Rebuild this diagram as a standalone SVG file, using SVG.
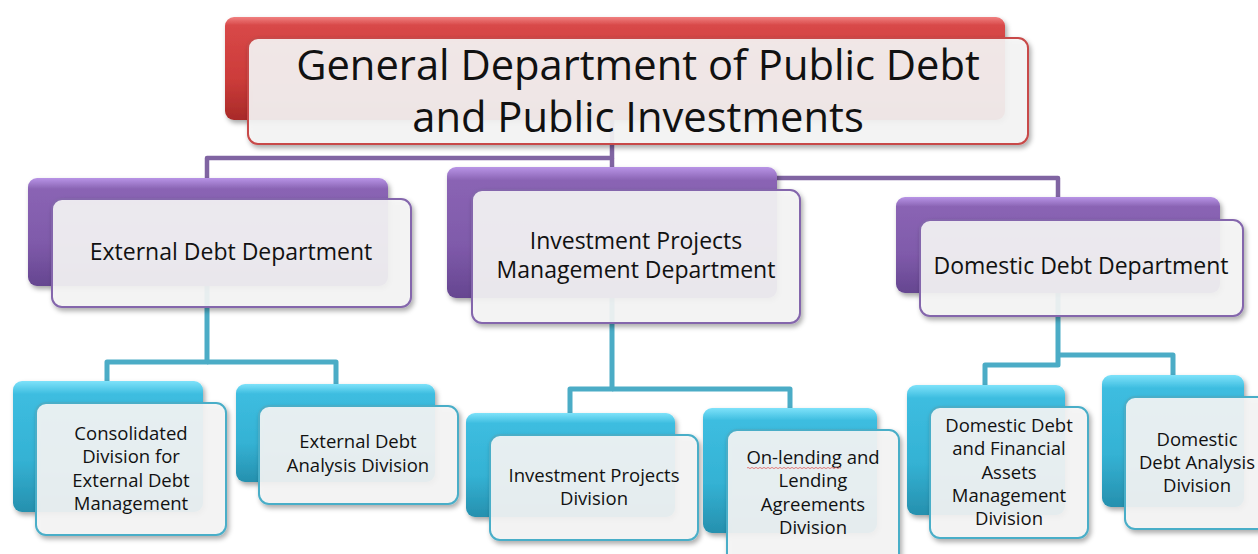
<svg xmlns="http://www.w3.org/2000/svg" width="1258" height="554" viewBox="0 0 1258 554">
  <defs>
    <linearGradient id="gRed" x1="0" y1="0" x2="0" y2="1">
      <stop offset="0" stop-color="#f08080"/>
      <stop offset="0.08" stop-color="#d84848"/>
      <stop offset="0.6" stop-color="#cc3c3a"/>
      <stop offset="1" stop-color="#a82a28"/>
    </linearGradient>
    <linearGradient id="gPurple" x1="0" y1="0" x2="0" y2="1">
      <stop offset="0" stop-color="#b894e6"/>
      <stop offset="0.1" stop-color="#8a64b4"/>
      <stop offset="0.6" stop-color="#7f5aaa"/>
      <stop offset="1" stop-color="#654690"/>
    </linearGradient>
    <linearGradient id="gCyan" x1="0" y1="0" x2="0" y2="1">
      <stop offset="0" stop-color="#7ee2fa"/>
      <stop offset="0.1" stop-color="#3dbde0"/>
      <stop offset="0.6" stop-color="#34b2d4"/>
      <stop offset="1" stop-color="#2690ae"/>
    </linearGradient>
    <filter id="shadow" x="-10%" y="-10%" width="125%" height="135%">
      <feDropShadow dx="2" dy="3" stdDeviation="2.5" flood-color="#000" flood-opacity="0.35"/>
    </filter>
  </defs>
  <style>
    text { font-family: "Open Sans", "Noto Sans", "Liberation Sans", sans-serif; fill: #111; text-anchor: middle; }
    .title { font-size: 41.7px; }
    .dept { font-size: 23px; }
    .div { font-size: 18.5px; }
    .back { filter: url(#shadow); }
    .front { fill: #f6f6f6; fill-opacity: 0.9; stroke-width: 2; filter: url(#shadow); }
    .red .back { fill: url(#gRed); }
    .red .front { stroke: #c84a48; }
    .purple .back { fill: url(#gPurple); }
    .purple .front { stroke: #8466ac; }
    .cyan .back { fill: url(#gCyan); }
    .cyan .front { stroke: #4aaec8; }
    .conn-p { fill: none; stroke: #8064a2; stroke-width: 4.5; stroke-linejoin: round; }
    .conn-c { fill: none; stroke: #4bacc6; stroke-width: 5; stroke-linejoin: round; }
    .spell { fill: none; stroke: #e06060; stroke-width: 0.8; }
  </style>

  <rect width="1258" height="554" fill="#ffffff"/>

  <!-- connectors, drawn beneath the boxes -->
  <g id="connectors">
    <path class="conn-p" d="M612,120 V158 H207 V180"/>
    <path class="conn-p" d="M612,158 V170"/>
    <path class="conn-p" d="M612,178 H1058 V199"/>
    <path class="conn-c" d="M207,286 V362 H107 V383"/>
    <path class="conn-c" d="M207,362 H336 V386"/>
    <path class="conn-c" d="M612,298 V389 H570 V415"/>
    <path class="conn-c" d="M612,389 H790 V410"/>
    <path class="conn-c" d="M1058,293 V365 H985 V387"/>
    <path class="conn-c" d="M1058,355 H1173 V377"/>
  </g>

  <!-- top level -->
  <g id="general-department" class="red">
    <rect class="back" x="225" y="17" width="780" height="103" rx="9"/>
    <rect class="front" x="248" y="38" width="780" height="106" rx="10"/>
    <text class="title" x="638" y="80">General Department of Public Debt</text>
    <text class="title" x="638" y="132">and Public Investments</text>
  </g>

  <!-- departments -->
  <g id="external-debt-department" class="purple">
    <rect class="back" x="28" y="178" width="360" height="108" rx="9"/>
    <rect class="front" x="52" y="199" width="359" height="108" rx="10"/>
    <text class="dept" x="231" y="260">External Debt Department</text>
  </g>
  <g id="investment-projects-management-department" class="purple">
    <rect class="back" x="447" y="167" width="330" height="131" rx="9"/>
    <rect class="front" x="472" y="190" width="328" height="133" rx="10"/>
    <text class="dept" x="636" y="249">Investment Projects</text>
    <text class="dept" x="636" y="278">Management Department</text>
  </g>
  <g id="domestic-debt-department" class="purple">
    <rect class="back" x="896" y="197" width="324" height="96" rx="9"/>
    <rect class="front" x="920" y="220" width="323" height="96" rx="10"/>
    <text class="dept" x="1081" y="274">Domestic Debt Department</text>
  </g>

  <!-- divisions -->
  <g id="consolidated-division" class="cyan">
    <rect class="back" x="13" y="381" width="190" height="131" rx="9"/>
    <rect class="front" x="36" y="403" width="190" height="132" rx="10"/>
    <text class="div" x="131" y="440">Consolidated</text>
    <text class="div" x="131" y="463">Division for</text>
    <text class="div" x="131" y="487">External Debt</text>
    <text class="div" x="131" y="510">Management</text>
  </g>
  <g id="external-debt-analysis-division" class="cyan">
    <rect class="back" x="236" y="384" width="199" height="98" rx="9"/>
    <rect class="front" x="259" y="406" width="199" height="98" rx="10"/>
    <text class="div" x="358" y="448">External Debt</text>
    <text class="div" x="358" y="472">Analysis Division</text>
  </g>
  <g id="investment-projects-division" class="cyan">
    <rect class="back" x="466" y="413" width="209" height="104" rx="9"/>
    <rect class="front" x="490" y="435" width="208" height="105" rx="10"/>
    <text class="div" x="594" y="482">Investment Projects</text>
    <text class="div" x="594" y="505">Division</text>
  </g>
  <g id="on-lending-division" class="cyan">
    <rect class="back" x="703" y="408" width="174" height="125" rx="9"/>
    <rect class="front" x="727" y="430" width="172" height="135" rx="10"/>
    <text class="div" x="813" y="464">On-lending and</text>
    <!-- wavy spelling underline beneath "On-lending" -->
    <path class="spell" d="M747,468 q1,-1.2 2,0 t2,0 t2,0 t2,0 t2,0 t2,0 t2,0 t2,0 t2,0 t2,0 t2,0 t2,0 t2,0 t2,0 t2,0 t2,0 t2,0 t2,0 t2,0 t2,0 t2,0 t2,0 t2,0 t2,0 t2,0 t2,0 t2,0 t2,0 t2,0 t2,0 t2,0 t2,0 t2,0 t2,0 t2,0 t2,0 t2,0 t2,0 t2,0 t2,0 t2,0 t2,0 t2,0 t2,0 t2,0 t2,0 t2,0"/>
    <text class="div" x="813" y="487">Lending</text>
    <text class="div" x="813" y="511">Agreements</text>
    <text class="div" x="813" y="534">Division</text>
  </g>
  <g id="domestic-debt-financial-assets-division" class="cyan">
    <rect class="back" x="907" y="385" width="158" height="130" rx="9"/>
    <rect class="front" x="930" y="407" width="158" height="131" rx="10"/>
    <text class="div" x="1009" y="432">Domestic Debt</text>
    <text class="div" x="1009" y="455">and Financial</text>
    <text class="div" x="1009" y="479">Assets</text>
    <text class="div" x="1009" y="502">Management</text>
    <text class="div" x="1009" y="525">Division</text>
  </g>
  <g id="domestic-debt-analysis-division" class="cyan">
    <rect class="back" x="1102" y="375" width="142" height="132" rx="9"/>
    <rect class="front" x="1125" y="397" width="145" height="132" rx="10"/>
    <text class="div" x="1197" y="446">Domestic</text>
    <text class="div" x="1197" y="469">Debt Analysis</text>
    <text class="div" x="1197" y="492">Division</text>
  </g>
</svg>
